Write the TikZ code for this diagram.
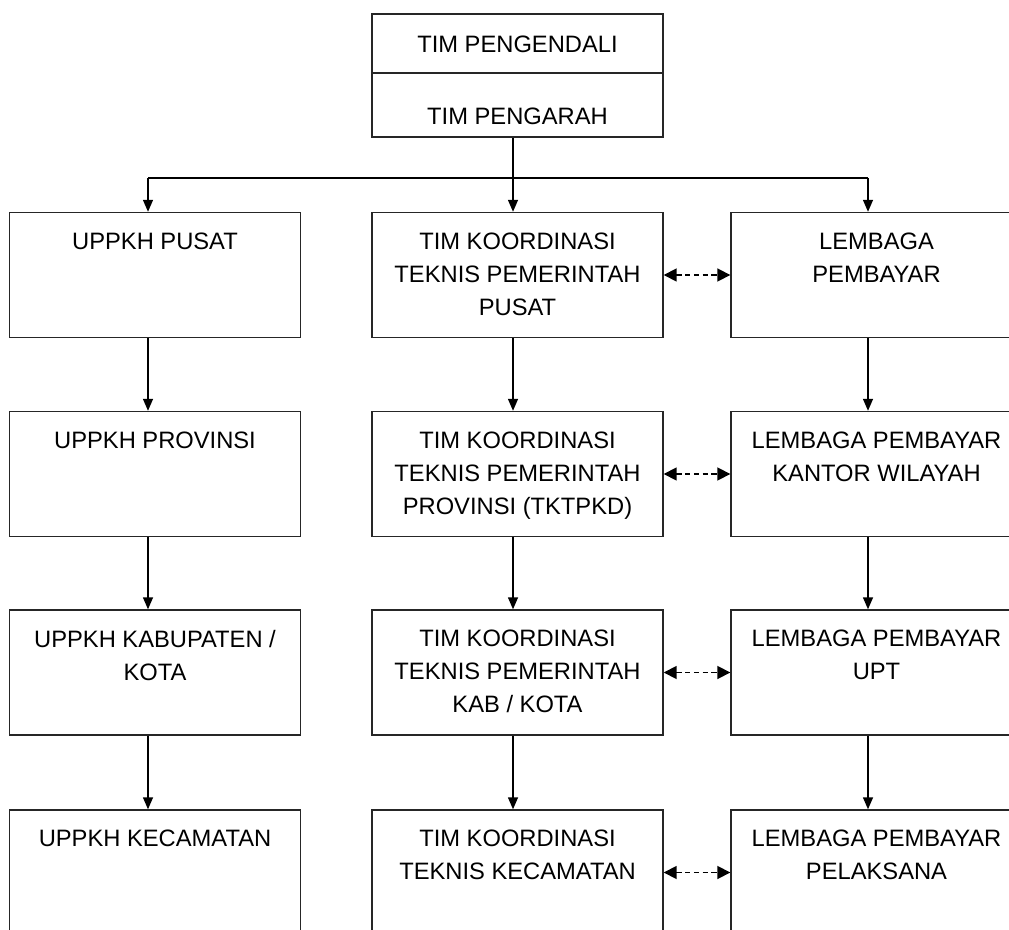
\documentclass[tikz,border=0pt]{standalone}
\usepackage{fontspec}
\setmainfont{Liberation Sans}
\usetikzlibrary{arrows.meta}

\begin{document}
\begin{tikzpicture}[
    % Define styles
    unit/.style={rectangle, draw=black!85, line width=0.8pt, minimum width=5.82cm, minimum height=2.5cm, inner sep=0pt},
    head/.style={rectangle, draw=black!85, line width=0.8pt, minimum width=5.82cm, minimum height=2.46cm, inner sep=0pt},
    caption/.style={anchor=north, inner sep=0pt, align=center, yshift=-0.41cm, font=\fontsize{13.5}{18.8}\selectfont},
    title/.style={inner sep=0pt, font=\fontsize{13.5}{16}\selectfont},
    flow/.style={-{Triangle[width=0.2cm, length=0.24cm]}, line width=0.8pt},
    link/.style={{Triangle[width=0.26cm, length=0.26cm]}-{Triangle[width=0.26cm, length=0.26cm]}, line width=1pt, dash pattern=on 3pt off 2pt}
]

\useasboundingbox (0, 0) rectangle (20.18, -18.6);
\clip (0, 0) rectangle (20.18, -18.6);

% Top box
\node[head] (top) at (10.35, -1.51) {};
\draw[line width=0.8pt, draw=black!85] (top.west |- 0, -1.46) -- (top.east |- 0, -1.46);
\node[title] (pengendali) at (10.35, -0.88) {TIM PENGENDALI};
\node[title] (pengarah) at (10.35, -2.32) {TIM PENGARAH};

% Row 1: Pusat
\node[unit] (uppkh_pusat) at (3.1, -5.5) {};
\node[unit] (tim_pusat) at (10.35, -5.5) {};
\node[unit] (bayar_pusat) at (17.53, -5.5) {};
\node[caption] (uppkh_pusat_txt) at (uppkh_pusat.north) {UPPKH PUSAT};
\node[caption] (tim_pusat_txt) at (tim_pusat.north) {TIM KOORDINASI\\TEKNIS PEMERINTAH\\PUSAT};
\node[caption] (bayar_pusat_txt) at (bayar_pusat.north) {LEMBAGA\\PEMBAYAR};

% Row 2: Provinsi
\node[unit] (uppkh_prov) at (3.1, -9.48) {};
\node[unit] (tim_prov) at (10.35, -9.48) {};
\node[unit] (bayar_prov) at (17.53, -9.48) {};
\node[caption] (uppkh_prov_txt) at (uppkh_prov.north) {UPPKH PROVINSI};
\node[caption] (tim_prov_txt) at (tim_prov.north) {TIM KOORDINASI\\TEKNIS PEMERINTAH\\PROVINSI (TKTPKD)};
\node[caption] (bayar_prov_txt) at (bayar_prov.north) {LEMBAGA PEMBAYAR\\KANTOR WILAYAH};

% Row 3: Kabupaten / Kota
\node[unit] (uppkh_kab) at (3.1, -13.45) {};
\node[unit] (tim_kab) at (10.35, -13.45) {};
\node[unit] (bayar_kab) at (17.53, -13.45) {};
\node[caption] (uppkh_kab_txt) at (uppkh_kab.north) {UPPKH KABUPATEN /\\KOTA};
\node[caption] (tim_kab_txt) at (tim_kab.north) {TIM KOORDINASI\\TEKNIS PEMERINTAH\\KAB / KOTA};
\node[caption] (bayar_kab_txt) at (bayar_kab.north) {LEMBAGA PEMBAYAR\\UPT};

% Row 4: Kecamatan
\node[unit] (uppkh_kec) at (3.1, -17.45) {};
\node[unit] (tim_kec) at (10.35, -17.45) {};
\node[unit] (bayar_kec) at (17.53, -17.45) {};
\node[caption] (uppkh_kec_txt) at (uppkh_kec.north) {UPPKH KECAMATAN};
\node[caption] (tim_kec_txt) at (tim_kec.north) {TIM KOORDINASI\\TEKNIS KECAMATAN};
\node[caption] (bayar_kec_txt) at (bayar_kec.north) {LEMBAGA PEMBAYAR\\PELAKSANA};

% Branching from the top box
\coordinate (bus) at ([xshift=-0.09cm]top.south |- 0, -3.56);
\draw[line width=0.8pt] ([xshift=-0.14cm]uppkh_pusat.north |- bus) -- ([xshift=-0.17cm]bayar_pusat.north |- bus);
\draw[flow] ([xshift=-0.09cm]top.south) -- ([xshift=-0.09cm]tim_pusat.north);
\draw[flow] ([xshift=-0.14cm]uppkh_pusat.north |- bus) -- ([xshift=-0.14cm]uppkh_pusat.north);
\draw[flow] ([xshift=-0.17cm]bayar_pusat.north |- bus) -- ([xshift=-0.17cm]bayar_pusat.north);

% Vertical flow in each column
\foreach \a/\b in {uppkh_pusat/uppkh_prov, uppkh_prov/uppkh_kab, uppkh_kab/uppkh_kec}
    \draw[flow] ([xshift=-0.14cm]\a.south) -- ([xshift=-0.14cm]\b.north);
\foreach \a/\b in {tim_pusat/tim_prov, tim_prov/tim_kab, tim_kab/tim_kec}
    \draw[flow] ([xshift=-0.09cm]\a.south) -- ([xshift=-0.09cm]\b.north);
\foreach \a/\b in {bayar_pusat/bayar_prov, bayar_prov/bayar_kab, bayar_kab/bayar_kec}
    \draw[flow] ([xshift=-0.17cm]\a.south) -- ([xshift=-0.17cm]\b.north);

% Coordination links
\foreach \r in {pusat, prov, kab, kec}
    \draw[link] (tim_\r.east) -- (bayar_\r.west);

\end{tikzpicture}
\end{document}
